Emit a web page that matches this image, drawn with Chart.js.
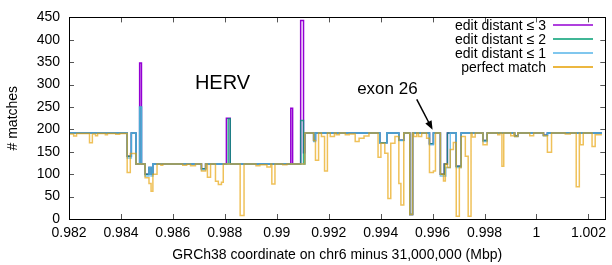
<!DOCTYPE html>
<html>
<head>
<meta charset="utf-8">
<script src="https://cdn.jsdelivr.net/npm/chart.js@4.4.1/dist/chart.umd.min.js"></script>
<style>
  html, body { margin: 0; padding: 0; background: #fff; }
  #wrap { width: 612px; height: 265px; }
</style>
</head>
<body>
<div id="wrap"><canvas id="chart"></canvas></div>
<script>
// tick positions
const xTicks = [0.982, 0.984, 0.986, 0.988, 0.990, 0.992, 0.994, 0.996, 0.998, 1.000, 1.002];
const yTicks = [0, 50, 100, 150, 200, 250, 300, 350, 400, 450];

const seriesNames = ["edit distant \u2264 3", "edit distant \u2264 2", "edit distant \u2264 1", "perfect match"];

// [start coordinate (Mbp), number of matches], held until the next step
const edit3Steps = [
  [0.98200, 192], [0.98424, 140], [0.98440, 192], [0.98458, 123], [0.98472, 348], [0.98479, 123],
  [0.98493, 100], [0.98508, 115], [0.98516, 100], [0.98523, 123], [0.98710, 112], [0.98726, 123],
  [0.98806, 225], [0.98821, 123], [0.99054, 247], [0.99061, 123], [0.99092, 443], [0.99103, 148],
  [0.99108, 192], [0.99142, 175], [0.99149, 192], [0.99397, 170], [0.99424, 192], [0.99470, 176],
  [0.99489, 192], [0.99512, 10], [0.99523, 192], [0.99588, 168], [0.99603, 192], [0.99630, 100],
  [0.99645, 123], [0.99657, 192], [0.99691, 118], [0.99710, 192], [0.99794, 175], [0.99810, 192],
  [0.99916, 185], [0.99928, 192], [1.00027, 187], [1.00042, 192], [1.00252, 192]
];

const edit2Steps = [
  [0.98200, 192], [0.98424, 140], [0.98440, 192], [0.98458, 123], [0.98472, 250], [0.98479, 123],
  [0.98493, 100], [0.98508, 115], [0.98516, 100], [0.98523, 123], [0.98710, 112], [0.98726, 123],
  [0.98813, 224], [0.98821, 123], [0.99092, 220], [0.99103, 123], [0.99108, 192], [0.99142, 175],
  [0.99149, 192], [0.99397, 170], [0.99424, 192], [0.99470, 176], [0.99489, 192], [0.99512, 10],
  [0.99523, 192], [0.99588, 168], [0.99603, 192], [0.99630, 100], [0.99645, 123], [0.99657, 192],
  [0.99691, 118], [0.99710, 192], [0.99794, 175], [0.99810, 192], [0.99916, 185], [0.99928, 192],
  [1.00027, 187], [1.00042, 192], [1.00252, 192]
];

const edit1Steps = [
  [0.98200, 192], [0.98424, 136], [0.98440, 192], [0.98458, 123], [0.98472, 250], [0.98479, 123],
  [0.98493, 96], [0.98508, 115], [0.98516, 96], [0.98523, 123], [0.98710, 110], [0.98726, 123],
  [0.99108, 192], [0.99142, 173], [0.99149, 192], [0.99397, 169], [0.99424, 192], [0.99470, 175],
  [0.99489, 192], [0.99512, 10], [0.99523, 192], [0.99588, 166], [0.99603, 192], [0.99630, 96],
  [0.99651, 115], [0.99668, 192], [0.99691, 115], [0.99710, 192], [0.99794, 173], [0.99810, 192],
  [0.99916, 184], [0.99928, 192], [1.00027, 186], [1.00042, 192], [1.00252, 192]
];

const perfectSteps = [
  [0.98200, 190], [0.98218, 185], [0.98229, 191], [0.98279, 170], [0.98290, 190], [0.98302, 186],
  [0.98310, 191], [0.98340, 188], [0.98348, 191], [0.98380, 189], [0.98395, 191], [0.98424, 104],
  [0.98436, 146], [0.98458, 123], [0.98493, 92], [0.98508, 79], [0.98516, 62], [0.98523, 100],
  [0.98539, 123], [0.98554, 120], [0.98561, 123], [0.98638, 120], [0.98653, 122], [0.98668, 119],
  [0.98687, 123], [0.98710, 107], [0.98726, 123], [0.98733, 93], [0.98745, 123], [0.98764, 84],
  [0.98775, 77], [0.98787, 82], [0.98794, 123], [0.98859, 8], [0.98874, 123], [0.98920, 119],
  [0.98935, 121], [0.98962, 116], [0.98977, 123], [0.98981, 78], [0.98993, 123], [0.99023, 121],
  [0.99039, 123], [0.99108, 192], [0.99142, 175], [0.99149, 131], [0.99161, 192], [0.99172, 184],
  [0.99184, 107], [0.99195, 192], [0.99206, 184], [0.99222, 192], [0.99229, 188], [0.99241, 192],
  [0.99264, 188], [0.99279, 190], [0.99302, 173], [0.99317, 180], [0.99336, 185], [0.99355, 192],
  [0.99390, 138], [0.99401, 169], [0.99416, 147], [0.99428, 46], [0.99439, 169], [0.99455, 184],
  [0.99470, 79], [0.99478, 31], [0.99489, 192], [0.99512, 10], [0.99523, 192], [0.99527, 184],
  [0.99539, 192], [0.99546, 184], [0.99558, 192], [0.99577, 180], [0.99588, 104], [0.99603, 107],
  [0.99611, 192], [0.99630, 100], [0.99642, 85], [0.99649, 123], [0.99657, 115], [0.99668, 155],
  [0.99680, 171], [0.99691, 6], [0.99703, 115], [0.99710, 184], [0.99726, 140], [0.99737, 6],
  [0.99748, 192], [0.99752, 183], [0.99764, 192], [0.99794, 166], [0.99810, 192], [0.99851, 188],
  [0.99859, 192], [0.99867, 118], [0.99874, 192], [0.99901, 186], [0.99913, 192], [0.99916, 184],
  [0.99928, 192], [0.99974, 186], [0.99989, 192], [1.00027, 186], [1.00042, 149], [1.00058, 192],
  [1.00111, 190], [1.00130, 192], [1.00153, 72], [1.00165, 192], [1.00168, 166], [1.00180, 192],
  [1.00214, 162], [1.00226, 188], [1.00252, 188]
];

// text labels in data units
const hervLabel = { x: 0.98791, y: 290, text: "HERV" };
const exonLabel = { x: 0.99426, y: 278, text: "exon 26" };
const exonArrow = { x0: 0.99539, y0: 267, x1: 0.99600, y1: 199 };

const colors = ["rgba(148,0,211,1)", "rgba(0,158,115,0.8)", "rgba(86,180,233,0.8)", "rgba(230,159,0,0.65)"];
const legendColors = ["#9400d3", "#009e73", "#56b4e9", "#e69f00"];

Chart.defaults.font.family = "'Liberation Sans', Arial, sans-serif";
Chart.defaults.font.size = 14;
Chart.defaults.color = "#000";

function toPoints(steps) {
  return steps.map(s => ({ x: s[0], y: s[1] }));
}

const allSteps = [edit3Steps, edit2Steps, edit1Steps, perfectSteps];

const frameAndExtras = {
  id: "frameAndExtras",
  afterDatasetsDraw(chart) {
    const { ctx, chartArea: a, scales } = chart;
    const xs = scales.x, ys = scales.y;
    ctx.save();
    // inward ticks, mirrored
    ctx.strokeStyle = "#555";
    ctx.lineWidth = 1;
    ctx.beginPath();
    xTicks.forEach(v => {
      const px = Math.round(xs.getPixelForValue(v)) + 0.5;
      ctx.moveTo(px, a.bottom); ctx.lineTo(px, a.bottom - 5);
      ctx.moveTo(px, a.top); ctx.lineTo(px, a.top + 5);
    });
    yTicks.forEach(v => {
      const py = Math.round(ys.getPixelForValue(v)) + 0.5;
      ctx.moveTo(a.left, py); ctx.lineTo(a.left + 5, py);
      ctx.moveTo(a.right, py); ctx.lineTo(a.right - 5, py);
    });
    ctx.stroke();
    // border
    ctx.strokeStyle = "#000";
    ctx.strokeRect(Math.round(a.left) + 0.5, Math.round(a.top) + 0.5,
      Math.round(a.right - a.left), Math.round(a.bottom - a.top));

    // legend, gnuplot style
    ctx.font = "14px 'Liberation Sans', Arial, sans-serif";
    ctx.textAlign = "right";
    ctx.textBaseline = "middle";
    seriesNames.forEach((name, i) => {
      const y = 25 + i * 14;
      ctx.fillStyle = "#000";
      ctx.fillText(name, 546, y + 1);
      ctx.strokeStyle = legendColors[i];
      ctx.lineWidth = 1.5;
      ctx.beginPath();
      ctx.moveTo(553, y); ctx.lineTo(593, y);
      ctx.stroke();
    });

    // annotations
    ctx.fillStyle = "#000";
    ctx.textAlign = "center";
    ctx.textBaseline = "alphabetic";
    ctx.font = "20px 'Liberation Sans', Arial, sans-serif";
    ctx.fillText(hervLabel.text, xs.getPixelForValue(hervLabel.x), ys.getPixelForValue(hervLabel.y));
    ctx.font = "17px 'Liberation Sans', Arial, sans-serif";
    ctx.fillText(exonLabel.text, xs.getPixelForValue(exonLabel.x), ys.getPixelForValue(exonLabel.y));

    const ax0 = xs.getPixelForValue(exonArrow.x0), ay0 = ys.getPixelForValue(exonArrow.y0);
    const ax1 = xs.getPixelForValue(exonArrow.x1), ay1 = ys.getPixelForValue(exonArrow.y1);
    const ang = Math.atan2(ay1 - ay0, ax1 - ax0);
    ctx.strokeStyle = "#000";
    ctx.lineWidth = 1.5;
    ctx.beginPath();
    ctx.moveTo(ax0, ay0);
    ctx.lineTo(ax1 - 6 * Math.cos(ang), ay1 - 6 * Math.sin(ang));
    ctx.stroke();
    ctx.beginPath();
    ctx.moveTo(ax1, ay1);
    ctx.lineTo(ax1 - 9 * Math.cos(ang) + 3.5 * Math.sin(ang), ay1 - 9 * Math.sin(ang) - 3.5 * Math.cos(ang));
    ctx.lineTo(ax1 - 9 * Math.cos(ang) - 3.5 * Math.sin(ang), ay1 - 9 * Math.sin(ang) + 3.5 * Math.cos(ang));
    ctx.closePath();
    ctx.fill();
    ctx.restore();
  }
};

new Chart(document.getElementById("chart"), {
  type: "line",
  data: {
    datasets: allSteps.map((steps, i) => ({
      label: seriesNames[i],
      data: toPoints(steps),
      borderColor: colors[i],
      borderWidth: 1.5,
      stepped: "before",
      pointRadius: 0,
      fill: false,
      order: 4 - i,
    })),
  },
  options: {
    responsive: true,
    maintainAspectRatio: false,
    animation: false,
    layout: { padding: { top: 13, right: 2, left: 0, bottom: 0 } },
    plugins: {
      legend: { display: false },
      tooltip: { enabled: false },
    },
    scales: {
      x: {
        type: "linear",
        min: 0.982,
        max: 1.00265,
        grid: { display: false, drawTicks: false },
        border: { display: false },
        afterBuildTicks: s => { s.ticks = xTicks.map(v => ({ value: v })); },
        afterFit: s => { s.height = 46; },
        ticks: {
          padding: 6,
          maxRotation: 0,
          autoSkip: false,
          callback: v => String(parseFloat(v.toFixed(3))),
        },
        title: {
          display: true,
          text: "GRCh38 coordinate on chr6 minus 31,000,000 (Mbp)",
          padding: { top: 0, bottom: 1 },
        },
      },
      y: {
        min: 0,
        max: 450,
        grid: { display: false, drawTicks: false },
        border: { display: false },
        afterBuildTicks: s => { s.ticks = yTicks.map(v => ({ value: v })); },
        afterFit: s => { s.width = 69; },
        ticks: { padding: 9 },
        title: {
          display: true,
          text: "# matches",
          padding: { top: 5, bottom: 0 },
        },
      },
    },
  },
  plugins: [frameAndExtras],
});
</script>
</body>
</html>
